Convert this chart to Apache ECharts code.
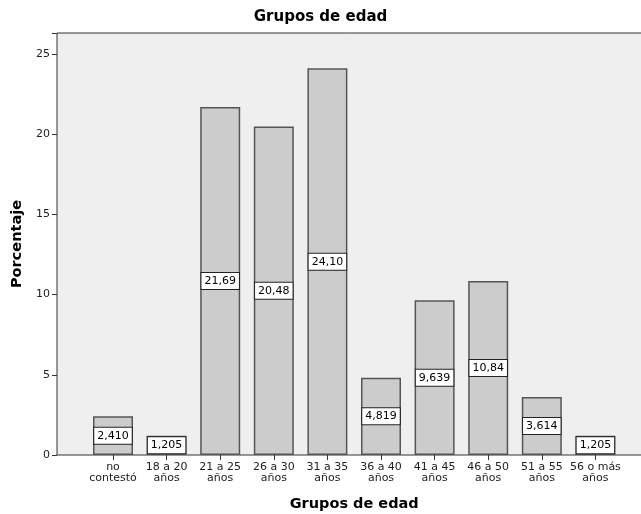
<!DOCTYPE html>
<html>
<head>
<meta charset="utf-8">
<script src="https://cdn.jsdelivr.net/npm/echarts@6/dist/echarts.min.js"></script>
<style>html,body{margin:0;padding:0;background:#fff;}#c{width:641px;height:514px;}</style>
</head>
<body>
<div id="c"></div>
<script>
var categories = ['no\ncontestó','18 a 20\naños','21 a 25\naños','26 a 30\naños','31 a 35\naños','36 a 40\naños','41 a 45\naños','46 a 50\naños','51 a 55\naños','56 o más\naños'];
var percentages = [2.410, 1.205, 21.69, 20.48, 24.10, 4.819, 9.639, 10.84, 3.614, 1.205];
var yTicks = [0, 5, 10, 15, 20, 25];
var chartTitle = 'Grupos de edad';
var xTitle = 'Grupos de edad';
var yTitle = 'Porcentaje';

var FONT = 'DejaVu Sans';
var chart = echarts.init(document.getElementById('c'), null, {renderer: 'canvas'});
chart.setOption({
  backgroundColor: '#ffffff',
  animation: false,
  textStyle: {fontFamily: FONT},
  title: {
    text: chartTitle, left: 'center', top: 5,
    textStyle: {fontFamily: FONT, fontSize: 15, fontWeight: 'bold', color: '#000'}
  },
  grid: [
    {left: 57, top: 33, width: 595, height: 422, show: true, backgroundColor: '#efefef', borderColor: '#333', borderWidth: 1, containLabel: false, outerBoundsMode: 'none'},
    {left: 86.2, top: 33, width: 536, height: 422, containLabel: false, outerBoundsMode: 'none'}
  ],
  xAxis: [
    {gridIndex: 0, type: 'value', show: false, min: 0, max: 1},
    {
      gridIndex: 1, type: 'category', data: categories,
      axisLine: {show: false},
      axisTick: {show: true, alignWithLabel: true, length: 5, lineStyle: {color: '#333'}},
      axisLabel: {fontFamily: FONT, fontSize: 11, color: '#222', lineHeight: 11, margin: 7, interval: 0},
      name: xTitle, nameLocation: 'middle', nameGap: 42,
      nameTextStyle: {fontFamily: FONT, fontSize: 14.5, fontWeight: 'bold', color: '#000'}
    }
  ],
  yAxis: [
    {gridIndex: 0, type: 'value', show: false, min: 0, max: 1},
    {
      gridIndex: 1, type: 'value', min: 0, max: 26.3, interval: 5, offset: 29.2,
      axisLine: {show: false},
      axisTick: {show: true, length: 5, lineStyle: {color: '#333'}},
      splitLine: {show: false},
      axisLabel: {fontFamily: FONT, fontSize: 11, color: '#222', margin: 7,
        formatter: function(v){ return yTicks.indexOf(v) >= 0 ? String(v) : ''; }},
      name: yTitle, nameLocation: 'middle', nameGap: 31,
      nameTextStyle: {fontFamily: FONT, fontSize: 14.5, fontWeight: 'bold', color: '#000'}
    }
  ],
  series: [{
    type: 'bar', xAxisIndex: 1, yAxisIndex: 1,
    data: percentages, barWidth: 40,
    itemStyle: {color: '#cccccc', borderColor: '#555', borderWidth: 1.5},
    label: {
      show: true, position: 'inside',
      formatter: function(p){ return p.value.toPrecision(4).replace('.', ','); },
      fontFamily: FONT, fontSize: 11, color: '#000',
      backgroundColor: '#fff', borderColor: '#222', borderWidth: 1, padding: [3, 3, 2, 3]
    }
  }]
});
</script>
</body>
</html>
